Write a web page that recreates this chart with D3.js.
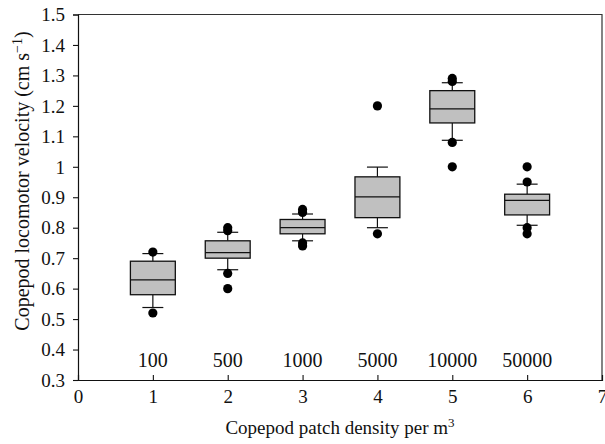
<!DOCTYPE html>
<html><head><meta charset="utf-8">
<script src="https://cdn.jsdelivr.net/npm/d3@7"></script>
<style>body{margin:0;background:#fff}svg{display:block}text{font-family:"Liberation Serif","Times New Roman",serif;fill:#111}</style>
</head><body><svg id="c" width="605" height="444"></svg>
<script>
const positions = [1, 2, 3, 4, 5, 6];
const densityLabels = ["100", "500", "1000", "5000", "10000", "50000"];
const whiskerLow = [0.538, 0.662, 0.757, 0.800, 1.087, 0.808];
const q1 = [0.580, 0.700, 0.780, 0.833, 1.144, 0.842];
const median = [0.629, 0.718, 0.800, 0.901, 1.190, 0.890];
const q3 = [0.690, 0.757, 0.827, 0.967, 1.250, 0.910];
const whiskerHigh = [0.715, 0.785, 0.845, 0.999, 1.276, 0.943];
const outliers = [
  [0.52, 0.72],
  [0.60, 0.65, 0.79, 0.80],
  [0.74, 0.75, 0.85, 0.86],
  [0.78, 1.20],
  [1.00, 1.08, 1.28, 1.29],
  [0.78, 0.80, 0.95, 1.00]
];
const xTicks = [0, 1, 2, 3, 4, 5, 6, 7];
const yTicks = [0.3, 0.4, 0.5, 0.6, 0.7, 0.8, 0.9, 1, 1.1, 1.2, 1.3, 1.4, 1.5];

const svg = d3.select("#c");
const x = d3.scaleLinear().domain([0, 7]).range([78, 602]);
const y = d3.scaleLinear().domain([0.3, 1.5]).range([380, 14.5]);

// frame (top/right)
svg.append("path")
  .attr("d", `M${x(0)},${y(1.5)}H${x(7)}V${y(0.3)}`)
  .attr("fill", "none").attr("stroke", "#333").attr("stroke-width", 1.2);

const yAxis = svg.append("g").attr("transform", `translate(${x(0)},0)`)
  .call(d3.axisLeft(y).tickValues(yTicks).tickSize(5).tickPadding(8)
    .tickFormat(d => d === 1 ? "1" : d3.format(".1f")(d)));
const xAxis = svg.append("g").attr("transform", `translate(0,${y(0.3)})`)
  .call(d3.axisBottom(x).tickValues(xTicks).tickSize(-5).tickPadding(0).tickFormat(d3.format("d")));
[yAxis, xAxis].forEach(g => {
  g.select(".domain").attr("stroke", "#111").attr("stroke-width", 1.2);
  g.selectAll(".tick line").attr("stroke", "#111").attr("stroke-width", 1.1);
  g.selectAll("text").style("font-size", "19px").attr("fill", "#111");
});
xAxis.selectAll(".tick text").attr("y", 23).attr("dy", null);
xAxis.selectAll(".tick").filter(d => d === 0 || d === 7).select("line").remove();
yAxis.selectAll(".tick text").attr("dy", "0.33em");

const boxW = x(0.3) - x(0);
const capW = x(0.14) - x(0);
const data = positions.map((p, i) => ({p, i}));

const g = svg.append("g");
data.forEach(({p, i}) => {
  const cx = x(p);
  const bg = g.append("g");
  bg.append("line").attr("x1", cx).attr("x2", cx).attr("y1", y(whiskerLow[i])).attr("y2", y(q1[i]))
    .attr("stroke", "#111").attr("stroke-width", 1.2);
  bg.append("line").attr("x1", cx).attr("x2", cx).attr("y1", y(q3[i])).attr("y2", y(whiskerHigh[i]))
    .attr("stroke", "#111").attr("stroke-width", 1.2);
  [whiskerLow[i], whiskerHigh[i]].forEach(v => {
    bg.append("line").attr("x1", cx - capW).attr("x2", cx + capW).attr("y1", y(v)).attr("y2", y(v))
      .attr("stroke", "#111").attr("stroke-width", 1.2);
  });
  bg.append("rect").attr("x", cx - boxW).attr("width", 2 * boxW)
    .attr("y", y(q3[i])).attr("height", y(q1[i]) - y(q3[i]))
    .attr("fill", "#c0c0c0").attr("stroke", "#111").attr("stroke-width", 1.3);
  bg.append("line").attr("x1", cx - boxW).attr("x2", cx + boxW).attr("y1", y(median[i])).attr("y2", y(median[i]))
    .attr("stroke", "#111").attr("stroke-width", 1.3);
  bg.selectAll("circle.o").data(outliers[i]).join("circle")
    .attr("cx", cx).attr("cy", d => y(d)).attr("r", 4.6).attr("fill", "#000");
  bg.append("text").attr("x", cx).attr("y", y(0.3) - 13.5).attr("text-anchor", "middle")
    .style("font-size", "20px").text(densityLabels[i]);
});

svg.append("text").attr("x", (x(0) + x(7)) / 2).attr("y", 434).attr("text-anchor", "middle")
  .style("font-size", "19px")
  .html('Copepod patch density per m<tspan dy="-7" style="font-size:13px">3</tspan>');
svg.append("text").attr("transform", `translate(29,181) rotate(-90)`)
  .attr("text-anchor", "middle").style("font-size", "20px")
  .html('Copepod locomotor velocity (cm s<tspan dy="-7" style="font-size:14px">−1</tspan><tspan dy="7">)</tspan>');
</script></body></html>
